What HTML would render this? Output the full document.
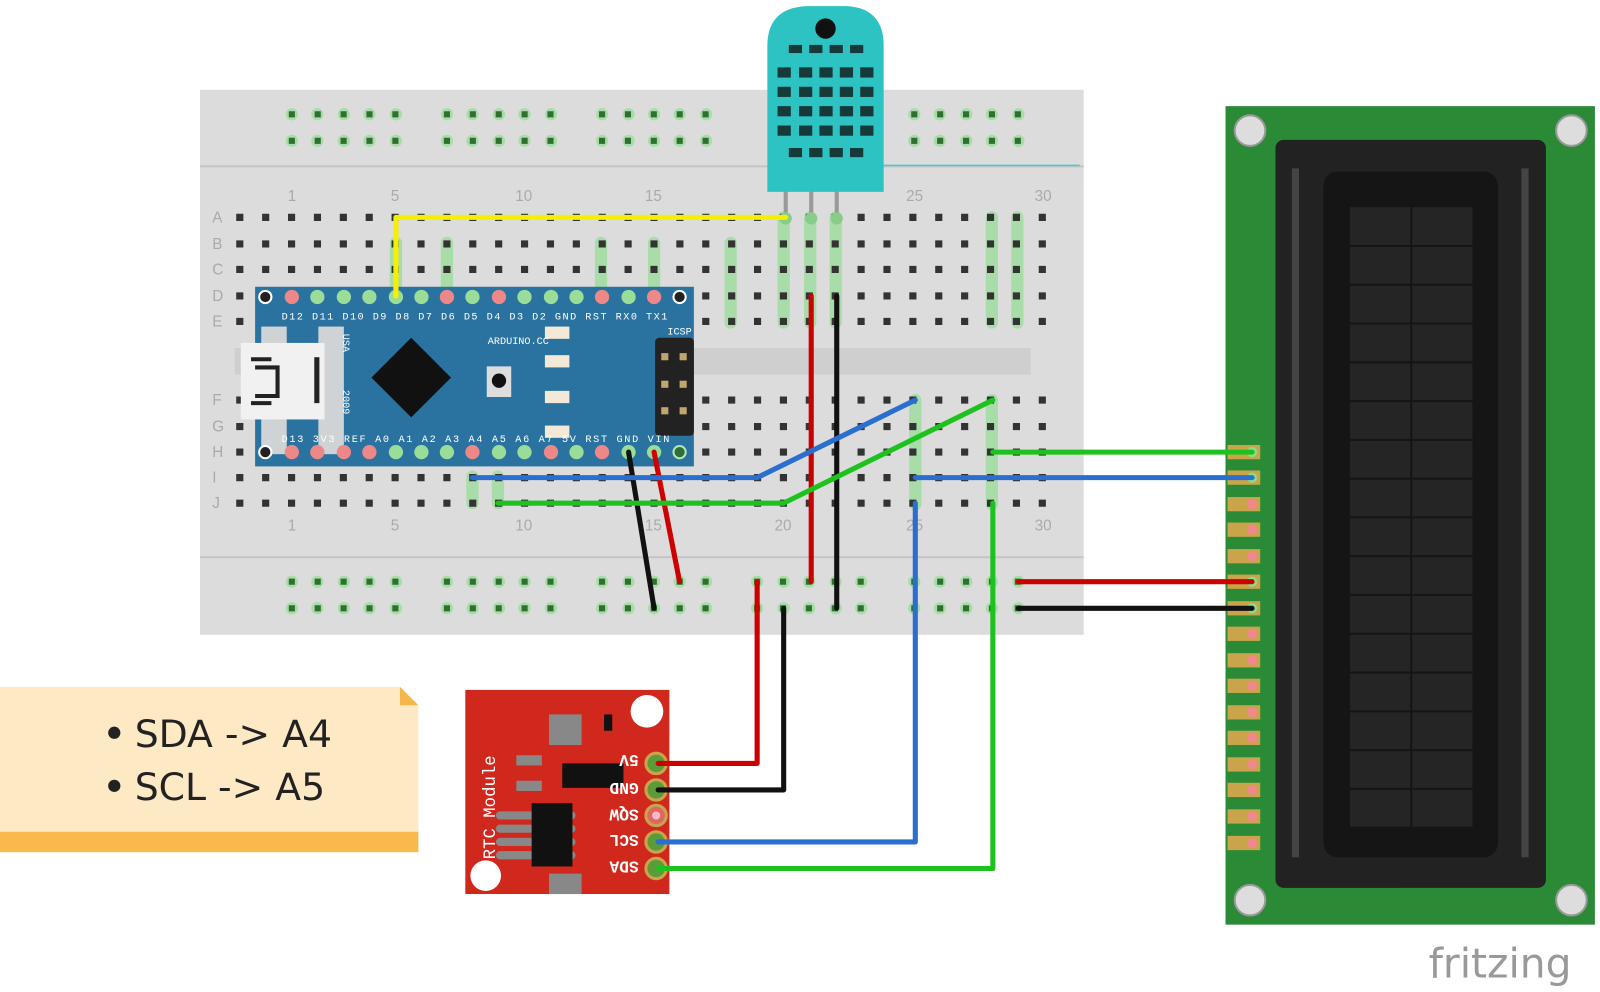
<!DOCTYPE html>
<html><head><meta charset="utf-8"><style>
html,body{margin:0;padding:0;background:#fff;width:1600px;height:992px;overflow:hidden}
svg{display:block}
</style></head><body>
<svg width="1600" height="992" viewBox="0 0 1568 972" preserveAspectRatio="none" xmlns="http://www.w3.org/2000/svg" font-family="Liberation Sans, DejaVu Sans, sans-serif">

<!-- breadboard -->
<rect x="196" y="88" width="866" height="534" fill="#dcdcdc"/>
<rect x="196" y="162" width="866" height="2" fill="#c4c4c4"/>
<rect x="196" y="545" width="866" height="2" fill="#c4c4c4"/>
<rect x="230" y="341" width="780" height="26" fill="#cfcfcf"/>
<line x1="860" y1="162" x2="1058" y2="162" stroke="#4cc" stroke-width="1.5"/>
<g fill="#a8dca8">
<circle cx="286" cy="112" r="6"/><circle cx="311" cy="112" r="6"/><circle cx="337" cy="112" r="6"/><circle cx="362" cy="112" r="6"/><circle cx="388" cy="112" r="6"/>
<circle cx="438" cy="112" r="6"/><circle cx="463" cy="112" r="6"/><circle cx="489" cy="112" r="6"/><circle cx="514" cy="112" r="6"/><circle cx="540" cy="112" r="6"/>
<circle cx="590" cy="112" r="6"/><circle cx="616" cy="112" r="6"/><circle cx="641" cy="112" r="6"/><circle cx="666" cy="112" r="6"/><circle cx="692" cy="112" r="6"/>
<circle cx="896" cy="112" r="6"/><circle cx="921" cy="112" r="6"/><circle cx="947" cy="112" r="6"/><circle cx="972" cy="112" r="6"/><circle cx="998" cy="112" r="6"/>
<circle cx="286" cy="138" r="6"/><circle cx="311" cy="138" r="6"/><circle cx="337" cy="138" r="6"/><circle cx="362" cy="138" r="6"/><circle cx="388" cy="138" r="6"/>
<circle cx="438" cy="138" r="6"/><circle cx="463" cy="138" r="6"/><circle cx="489" cy="138" r="6"/><circle cx="514" cy="138" r="6"/><circle cx="540" cy="138" r="6"/>
<circle cx="590" cy="138" r="6"/><circle cx="616" cy="138" r="6"/><circle cx="641" cy="138" r="6"/><circle cx="666" cy="138" r="6"/><circle cx="692" cy="138" r="6"/>
<circle cx="896" cy="138" r="6"/><circle cx="921" cy="138" r="6"/><circle cx="947" cy="138" r="6"/><circle cx="972" cy="138" r="6"/><circle cx="998" cy="138" r="6"/>
<circle cx="286" cy="570" r="6"/><circle cx="311" cy="570" r="6"/><circle cx="337" cy="570" r="6"/><circle cx="362" cy="570" r="6"/><circle cx="388" cy="570" r="6"/>
<circle cx="438" cy="570" r="6"/><circle cx="463" cy="570" r="6"/><circle cx="489" cy="570" r="6"/><circle cx="514" cy="570" r="6"/><circle cx="540" cy="570" r="6"/>
<circle cx="590" cy="570" r="6"/><circle cx="616" cy="570" r="6"/><circle cx="641" cy="570" r="6"/><circle cx="666" cy="570" r="6"/><circle cx="692" cy="570" r="6"/>
<circle cx="742" cy="570" r="6"/><circle cx="768" cy="570" r="6"/><circle cx="793" cy="570" r="6"/><circle cx="819" cy="570" r="6"/><circle cx="844" cy="570" r="6"/>
<circle cx="896" cy="570" r="6"/><circle cx="921" cy="570" r="6"/><circle cx="947" cy="570" r="6"/><circle cx="972" cy="570" r="6"/><circle cx="998" cy="570" r="6"/>
<circle cx="286" cy="596" r="6"/><circle cx="311" cy="596" r="6"/><circle cx="337" cy="596" r="6"/><circle cx="362" cy="596" r="6"/><circle cx="388" cy="596" r="6"/>
<circle cx="438" cy="596" r="6"/><circle cx="463" cy="596" r="6"/><circle cx="489" cy="596" r="6"/><circle cx="514" cy="596" r="6"/><circle cx="540" cy="596" r="6"/>
<circle cx="590" cy="596" r="6"/><circle cx="616" cy="596" r="6"/><circle cx="641" cy="596" r="6"/><circle cx="666" cy="596" r="6"/><circle cx="692" cy="596" r="6"/>
<circle cx="742" cy="596" r="6"/><circle cx="768" cy="596" r="6"/><circle cx="793" cy="596" r="6"/><circle cx="819" cy="596" r="6"/><circle cx="844" cy="596" r="6"/>
<circle cx="896" cy="596" r="6"/><circle cx="921" cy="596" r="6"/><circle cx="947" cy="596" r="6"/><circle cx="972" cy="596" r="6"/><circle cx="998" cy="596" r="6"/>
</g>
<!-- green-tinted connected columns in main area -->
<g fill="#a8dca8">
<rect x="382" y="232" width="12" height="90" rx="6"/>
<rect x="432" y="232" width="12" height="90" rx="6"/>
<rect x="583" y="232" width="12" height="90" rx="6"/>
<rect x="635" y="232" width="12" height="90" rx="6"/>
<rect x="710" y="232" width="12" height="90" rx="6"/>
<rect x="762" y="207" width="12" height="115" rx="6"/>
<rect x="788" y="207" width="12" height="115" rx="6"/>
<rect x="813" y="207" width="12" height="115" rx="6"/>
<rect x="966" y="207" width="12" height="115" rx="6"/>
<rect x="991" y="207" width="12" height="115" rx="6"/>
<rect x="891" y="386" width="12" height="114" rx="6"/>
<rect x="966" y="386" width="12" height="114" rx="6"/>
<rect x="457" y="461" width="12" height="38" rx="6"/>
<rect x="482" y="461" width="12" height="38" rx="6"/>
</g>
<g stroke="#333" stroke-width="7" stroke-dasharray="7 18.37">
<line x1="231.5" y1="213" x2="1030" y2="213"/>
<line x1="231.5" y1="239" x2="1030" y2="239"/>
<line x1="231.5" y1="264" x2="1030" y2="264"/>
<line x1="231.5" y1="290" x2="1030" y2="290"/>
<line x1="231.5" y1="315" x2="1030" y2="315"/>
<line x1="231.5" y1="392" x2="1030" y2="392"/>
<line x1="231.5" y1="418" x2="1030" y2="418"/>
<line x1="231.5" y1="443" x2="1030" y2="443"/>
<line x1="231.5" y1="468" x2="1030" y2="468"/>
<line x1="231.5" y1="493" x2="1030" y2="493"/>
</g>
<g stroke="#2f6f2f" stroke-width="6" stroke-dasharray="6 19.37">
<line x1="283" y1="112" x2="395" y2="112"/><line x1="435" y1="112" x2="545" y2="112"/><line x1="587" y1="112" x2="697" y2="112"/><line x1="893" y1="112" x2="1003" y2="112"/>
<line x1="283" y1="138" x2="395" y2="138"/><line x1="435" y1="138" x2="545" y2="138"/><line x1="587" y1="138" x2="697" y2="138"/><line x1="893" y1="138" x2="1003" y2="138"/>
<line x1="283" y1="570" x2="395" y2="570"/><line x1="435" y1="570" x2="545" y2="570"/><line x1="587" y1="570" x2="697" y2="570"/><line x1="739" y1="570" x2="849" y2="570"/><line x1="893" y1="570" x2="1003" y2="570"/>
<line x1="283" y1="596" x2="395" y2="596"/><line x1="435" y1="596" x2="545" y2="596"/><line x1="587" y1="596" x2="697" y2="596"/><line x1="739" y1="596" x2="849" y2="596"/><line x1="893" y1="596" x2="1003" y2="596"/>
</g>
<g fill="#aaa" font-size="15">
<text x="208" y="218">A</text><text x="208" y="244">B</text><text x="208" y="269">C</text><text x="208" y="295">D</text><text x="208" y="320">E</text>
<text x="208" y="397">F</text><text x="208" y="423">G</text><text x="208" y="448">H</text><text x="208" y="473">I</text><text x="208" y="498">J</text>
<text x="282" y="197">1</text><text x="383" y="197">5</text><text x="505" y="197">10</text><text x="632" y="197">15</text><text x="888" y="197">25</text><text x="1014" y="197">30</text>
<text x="282" y="520">1</text><text x="383" y="520">5</text><text x="505" y="520">10</text><text x="632" y="520">15</text><text x="759" y="520">20</text><text x="888" y="520">25</text><text x="1014" y="520">30</text>
</g>

<!-- Arduino Nano -->
<rect x="250" y="281" width="430" height="176" fill="#2a73a0"/>
<rect x="256" y="320" width="25" height="125" fill="#cfd3d6"/>
<rect x="312" y="320" width="25" height="125" fill="#cfd3d6"/>
<rect x="236" y="336" width="82" height="75" fill="#f1f1f1"/>
<path d="M246 352 h20 M246 395 h20 M250 360 h22 v28 h-22" fill="none" stroke="#222" stroke-width="4"/>
<rect x="308" y="350" width="5" height="45" fill="#222"/>
<text transform="translate(336,327) rotate(90)" fill="#fff" font-family="Liberation Mono, monospace" font-size="10">USA</text>
<text transform="translate(336,382) rotate(90)" fill="#fff" font-family="Liberation Mono, monospace" font-size="10">2009</text>
<polygon points="403,331 442,370 403,409 364,370" fill="#111"/>
<rect x="477" y="359" width="24" height="30" fill="#ddd"/><circle cx="489" cy="373" r="7" fill="#111"/>
<g fill="#f3e9d6"><rect x="534" y="320" width="24" height="12"/><rect x="534" y="348" width="24" height="12"/><rect x="534" y="383" width="24" height="12"/><rect x="534" y="417" width="24" height="12"/></g>
<rect x="642" y="331" width="38" height="96" rx="4" fill="#222"/>
<g fill="#bfa66a"><rect x="648" y="346" width="7" height="7"/><rect x="666" y="346" width="7" height="7"/><rect x="648" y="373" width="7" height="7"/><rect x="666" y="373" width="7" height="7"/><rect x="648" y="399" width="7" height="7"/><rect x="666" y="399" width="7" height="7"/></g>
<g fill="#fff" font-family="Liberation Mono, monospace" font-size="10">
<text x="478" y="337">ARDUINO.CC</text><text x="654" y="328">ICSP</text>
<text x="276" y="313" textLength="378" lengthAdjust="spacing">D12 D11 D10 D9  D8  D7  D6  D5  D4  D3  D2  GND RST RX0 TX1</text>
<text x="276" y="433" textLength="380" lengthAdjust="spacing">D13 3V3 REF A0  A1  A2  A3  A4  A5  A6  A7  5V  RST GND VIN</text>
</g>
<g stroke-width="2">
<circle cx="260" cy="291" r="6" fill="#222" stroke="#fff"/><circle cx="666" cy="291" r="6" fill="#222" stroke="#fff"/>
<circle cx="260" cy="443" r="6" fill="#222" stroke="#fff"/><circle cx="666" cy="443" r="6" fill="#2c6f3a" stroke="#b6e6b6"/>
</g>
<g>
<circle cx="286" cy="291" r="7" fill="#e88"/><circle cx="311" cy="291" r="7" fill="#9d9"/><circle cx="337" cy="291" r="7" fill="#9d9"/><circle cx="362" cy="291" r="7" fill="#9d9"/><circle cx="388" cy="291" r="7" fill="#9d9"/><circle cx="413" cy="291" r="7" fill="#9d9"/><circle cx="438" cy="291" r="7" fill="#e88"/><circle cx="463" cy="291" r="7" fill="#9d9"/><circle cx="489" cy="291" r="7" fill="#e88"/><circle cx="514" cy="291" r="7" fill="#9d9"/><circle cx="540" cy="291" r="7" fill="#9d9"/><circle cx="565" cy="291" r="7" fill="#9d9"/><circle cx="590" cy="291" r="7" fill="#e88"/><circle cx="616" cy="291" r="7" fill="#9d9"/><circle cx="641" cy="291" r="7" fill="#e88"/>
<circle cx="286" cy="443" r="7" fill="#e88"/><circle cx="311" cy="443" r="7" fill="#e88"/><circle cx="337" cy="443" r="7" fill="#e88"/><circle cx="362" cy="443" r="7" fill="#e88"/><circle cx="388" cy="443" r="7" fill="#9d9"/><circle cx="413" cy="443" r="7" fill="#9d9"/><circle cx="438" cy="443" r="7" fill="#9d9"/><circle cx="463" cy="443" r="7" fill="#e88"/><circle cx="489" cy="443" r="7" fill="#9d9"/><circle cx="514" cy="443" r="7" fill="#9d9"/><circle cx="540" cy="443" r="7" fill="#e88"/><circle cx="565" cy="443" r="7" fill="#9d9"/><circle cx="590" cy="443" r="7" fill="#e88"/><circle cx="616" cy="443" r="7" fill="#9d9"/><circle cx="641" cy="443" r="7" fill="#9d9"/>
</g>

<!-- DHT sensor -->
<g stroke="#999" stroke-width="4"><line x1="770" y1="185" x2="770" y2="214"/><line x1="795" y1="185" x2="795" y2="214"/><line x1="820" y1="185" x2="820" y2="214"/></g>
<g fill="#8c8"><circle cx="770" cy="214" r="6"/><circle cx="795" cy="214" r="6"/><circle cx="820" cy="214" r="6"/></g>
<path d="M752 45 Q752 8 790 6 L830 6 Q866 8 866 45 L866 188 L752 188 Z" fill="#2ec3c3"/>
<circle cx="809" cy="28" r="10" fill="#111"/>
<g fill="#163a3a">
<rect x="773" y="44" width="13" height="8"/><rect x="793" y="44" width="13" height="8"/><rect x="813" y="44" width="13" height="8"/><rect x="833" y="44" width="13" height="8"/>
<rect x="762" y="66" width="13" height="10"/><rect x="783" y="66" width="13" height="10"/><rect x="803" y="66" width="13" height="10"/><rect x="823" y="66" width="13" height="10"/><rect x="843" y="66" width="13" height="10"/>
<rect x="762" y="85" width="13" height="10"/><rect x="783" y="85" width="13" height="10"/><rect x="803" y="85" width="13" height="10"/><rect x="823" y="85" width="13" height="10"/><rect x="843" y="85" width="13" height="10"/>
<rect x="762" y="104" width="13" height="10"/><rect x="783" y="104" width="13" height="10"/><rect x="803" y="104" width="13" height="10"/><rect x="823" y="104" width="13" height="10"/><rect x="843" y="104" width="13" height="10"/>
<rect x="762" y="123" width="13" height="10"/><rect x="783" y="123" width="13" height="10"/><rect x="803" y="123" width="13" height="10"/><rect x="823" y="123" width="13" height="10"/><rect x="843" y="123" width="13" height="10"/>
<rect x="773" y="145" width="13" height="9"/><rect x="793" y="145" width="13" height="9"/><rect x="813" y="145" width="13" height="9"/><rect x="833" y="145" width="13" height="9"/>
</g>

<!-- LCD -->
<rect x="1201" y="104" width="362" height="802" fill="#2a8a36"/>
<g fill="#ddd" stroke="#999" stroke-width="2"><circle cx="1225" cy="128" r="15"/><circle cx="1540" cy="128" r="15"/><circle cx="1225" cy="882" r="15"/><circle cx="1540" cy="882" r="15"/></g>
<rect x="1250" y="137" width="265" height="733" rx="8" fill="#222"/>
<rect x="1266" y="165" width="7" height="675" fill="#444"/><rect x="1491" y="165" width="7" height="675" fill="#444"/>
<rect x="1297" y="168" width="171" height="672" rx="14" fill="#151515"/>
<rect x="1323" y="203" width="120" height="607" fill="#252525"/>
<g stroke="#151515" stroke-width="2"><line x1="1383" y1="203" x2="1383" y2="810"/>
<line x1="1323" y1="241" x2="1443" y2="241"/><line x1="1323" y1="279" x2="1443" y2="279"/><line x1="1323" y1="317" x2="1443" y2="317"/><line x1="1323" y1="355" x2="1443" y2="355"/><line x1="1323" y1="393" x2="1443" y2="393"/><line x1="1323" y1="431" x2="1443" y2="431"/><line x1="1323" y1="469" x2="1443" y2="469"/><line x1="1323" y1="507" x2="1443" y2="507"/><line x1="1323" y1="545" x2="1443" y2="545"/><line x1="1323" y1="583" x2="1443" y2="583"/><line x1="1323" y1="621" x2="1443" y2="621"/><line x1="1323" y1="659" x2="1443" y2="659"/><line x1="1323" y1="697" x2="1443" y2="697"/><line x1="1323" y1="735" x2="1443" y2="735"/><line x1="1323" y1="773" x2="1443" y2="773"/></g>
<g fill="#c9a44a">
<rect x="1203" y="436" width="32" height="14"/><rect x="1203" y="461" width="32" height="14"/><rect x="1203" y="487" width="32" height="14"/><rect x="1203" y="512" width="32" height="14"/><rect x="1203" y="538" width="32" height="14"/><rect x="1203" y="563" width="32" height="14"/><rect x="1203" y="589" width="32" height="14"/><rect x="1203" y="614" width="32" height="14"/><rect x="1203" y="640" width="32" height="14"/><rect x="1203" y="665" width="32" height="14"/><rect x="1203" y="691" width="32" height="14"/><rect x="1203" y="716" width="32" height="14"/><rect x="1203" y="742" width="32" height="14"/><rect x="1203" y="767" width="32" height="14"/><rect x="1203" y="793" width="32" height="14"/><rect x="1203" y="819" width="32" height="14"/>
</g>
<g fill="#f08a8a">
<circle cx="1227" cy="443" r="5" fill="#8d8"/><circle cx="1227" cy="468" r="5" fill="#8d8"/><circle cx="1227" cy="494" r="5"/><circle cx="1227" cy="519" r="5"/><circle cx="1227" cy="545" r="5"/><circle cx="1227" cy="570" r="5" fill="#8d8"/><circle cx="1227" cy="596" r="5" fill="#8d8"/><circle cx="1227" cy="621" r="5"/><circle cx="1227" cy="647" r="5"/><circle cx="1227" cy="672" r="5"/><circle cx="1227" cy="698" r="5"/><circle cx="1227" cy="723" r="5"/><circle cx="1227" cy="749" r="5"/><circle cx="1227" cy="774" r="5"/><circle cx="1227" cy="800" r="5"/><circle cx="1227" cy="826" r="5"/>
</g>

<!-- RTC module -->
<rect x="456" y="676" width="200" height="200" fill="#d0281c"/>
<circle cx="634" cy="697" r="16" fill="#fff"/><circle cx="476" cy="858" r="15" fill="#fff"/>
<rect x="538" y="700" width="32" height="30" fill="#888"/><rect x="538" y="856" width="32" height="20" fill="#888"/>
<rect x="551" y="748" width="60" height="24" fill="#111"/>
<rect x="506" y="740" width="25" height="10" fill="#888"/><rect x="506" y="765" width="25" height="10" fill="#888"/>
<rect x="486" y="795" width="78" height="8" rx="4" fill="#888"/><rect x="486" y="808" width="78" height="8" rx="4" fill="#888"/><rect x="486" y="821" width="78" height="8" rx="4" fill="#888"/><rect x="486" y="834" width="78" height="8" rx="4" fill="#888"/>
<rect x="521" y="787" width="40" height="62" fill="#111"/>
<rect x="592" y="700" width="8" height="16" fill="#111"/>
<text transform="translate(485,842) rotate(-90)" fill="#fff" font-family="Liberation Mono, monospace" font-size="17">RTC Module</text>
<g fill="#fff" font-family="Liberation Mono, monospace" font-size="16" font-weight="bold">
<text transform="translate(626,740) rotate(180)">5V</text>
<text transform="translate(626,767) rotate(180)">GND</text>
<text transform="translate(626,793) rotate(180)">SQW</text>
<text transform="translate(626,818) rotate(180)">SCL</text>
<text transform="translate(626,844) rotate(180)">SDA</text>
</g>
<g stroke="#c9a44a" stroke-width="3">
<circle cx="643" cy="748" r="10" fill="#5b9b3a"/><circle cx="643" cy="774" r="10" fill="#5b9b3a"/><circle cx="643" cy="799" r="10" fill="#d66"/><circle cx="643" cy="825" r="10" fill="#5b9b3a"/><circle cx="643" cy="851" r="10" fill="#5b9b3a"/>
</g>
<circle cx="643" cy="799" r="4" fill="#fbb"/>

<!-- wires -->
<g fill="none" stroke-linejoin="round" stroke-linecap="round" stroke-width="5">
<polyline points="388,290 388,213 770,213" stroke="#f5f000"/>
<polyline points="795,290 795,570" stroke="#c00"/>
<polyline points="820,290 820,596" stroke="#111"/>
<polyline points="641,443 666,570" stroke="#c00"/>
<polyline points="616,443 641,596" stroke="#111"/>
<polyline points="463,468 742,468 897,392" stroke="#2a6fd0"/>
<polyline points="488,493 768,493 973,392" stroke="#1ec21e"/>
<polyline points="973,443 1227,443" stroke="#1ec21e"/>
<polyline points="897,468 1227,468" stroke="#2a6fd0"/>
<polyline points="998,570 1227,570" stroke="#c00"/>
<polyline points="998,596 1227,596" stroke="#111"/>
<polyline points="742,570 742,748 645,748" stroke="#c00"/>
<polyline points="768,596 768,774 645,774" stroke="#111"/>
<polyline points="897,493 897,825 645,825" stroke="#2a6fd0"/>
<polyline points="973,493 973,851 645,851" stroke="#1ec21e"/>
</g>

<!-- note -->
<path d="M0 673 H392 L410 691 V835 H0 Z" fill="#fde9c4"/>
<path d="M392 673 L410 691 H392 Z" fill="#f5b64a"/>
<rect x="0" y="815" width="410" height="20" fill="#f8ba4c"/>
<g fill="#222" font-size="37" font-family="DejaVu Sans, Liberation Sans, sans-serif">
<circle cx="112" cy="718" r="6"/><text x="132" y="732">SDA -&gt; A4</text>
<circle cx="112" cy="770" r="6"/><text x="132" y="784">SCL -&gt; A5</text>
</g>

<text x="1400" y="958" fill="#999" font-size="40" font-family="DejaVu Sans, Liberation Sans, sans-serif">fritzing</text>
</svg>
</body></html>
